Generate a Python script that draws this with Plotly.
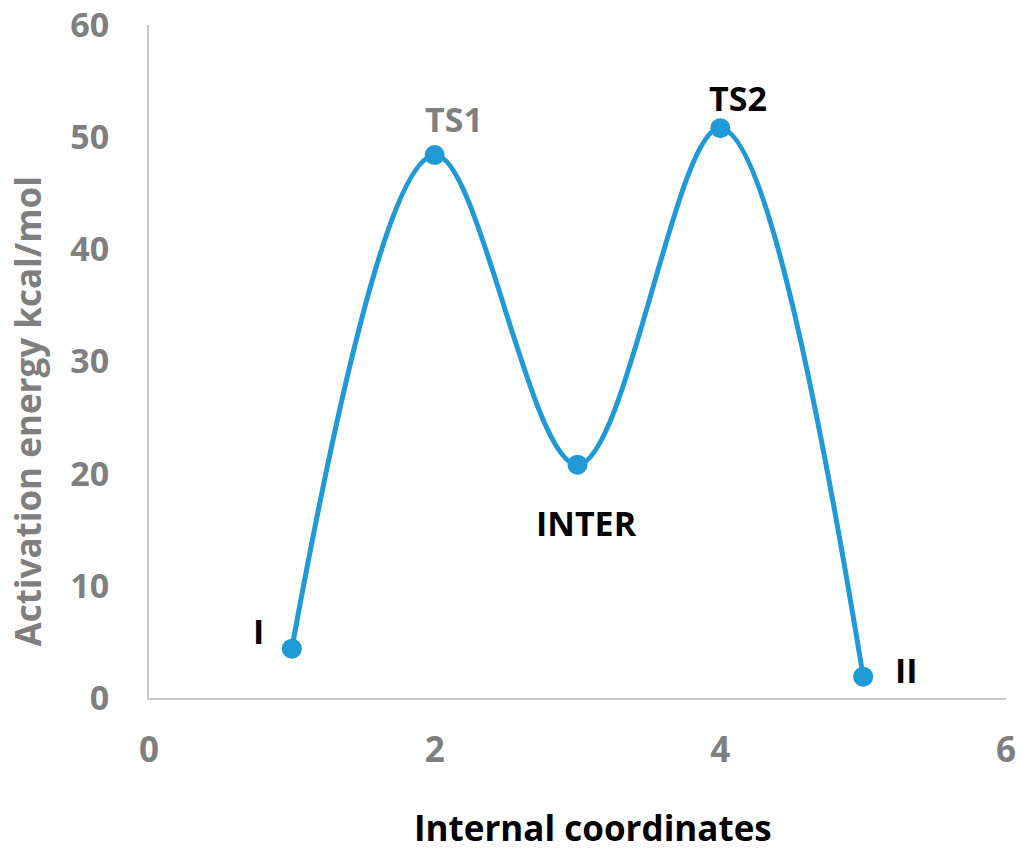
import plotly.graph_objects as go

# Data
x_vals = [1, 2, 3, 4, 5]
energy = [4.4, 48.4, 20.8, 50.8, 1.9]
labels = ["I", "TS1", "INTER", "TS2", "II"]
label_colors = ["#000000", "#7f7f7f", "#000000", "#000000", "#000000"]
label_xshift = [-33, 19, 9, 18, 43]
label_yshift = [18, 36, -58, 30, 7]

x_ticks = [0, 2, 4, 6]
y_ticks = [0, 10, 20, 30, 40, 50, 60]

x_title = "Internal coordinates"
y_title = "Activation energy kcal/mol"

FONT = "Open Sans"
BLUE = "#1f9ad6"
GRAY = "#7f7f7f"

fig = go.Figure()
fig.add_trace(go.Scatter(
    x=x_vals, y=energy, mode="lines+markers",
    line=dict(color=BLUE, width=5, shape="spline", smoothing=1.0),
    marker=dict(color=BLUE, size=20),
    showlegend=False, hoverinfo="skip",
))

for xv, yv, t, c, dx, dy in zip(x_vals, energy, labels, label_colors, label_xshift, label_yshift):
    fig.add_annotation(x=xv, y=yv, text=f"<b>{t}</b>", showarrow=False,
                       xshift=dx, yshift=dy,
                       font=dict(family=FONT, size=34, color=c))

# axis titles as annotations (offset from the plot centre as in the reference)
fig.add_annotation(xref="paper", yref="paper", x=0.5, y=0, yanchor="middle",
                   yshift=-129, xshift=15, showarrow=False,
                   text=f"<b>{x_title}</b>",
                   font=dict(family=FONT, size=35, color="#000000"))
fig.add_annotation(xref="paper", yref="paper", x=0, y=0.5, xanchor="center",
                   xshift=-122, yshift=-50, showarrow=False, textangle=-90,
                   text=f"<b>{y_title}</b>",
                   font=dict(family=FONT, size=35, color=GRAY))

fig.update_layout(
    width=1024, height=852,
    paper_bgcolor="white", plot_bgcolor="white",
    margin=dict(l=149, r=18, t=25, b=154, autoexpand=False),
    font=dict(family=FONT),
)
fig.update_xaxes(
    range=[0, 6], tickvals=x_ticks, ticktext=[f"<b>{v}</b>" for v in x_ticks],
    showgrid=False, zeroline=False,
    showline=True, linecolor="#c8c8c8", linewidth=2,
    ticks="outside", ticklen=20, tickcolor="rgba(0,0,0,0)",
    ticklabeloverflow="allow",
    tickfont=dict(family=FONT, size=35, color=GRAY),
)
fig.update_yaxes(
    range=[0, 60], tickvals=y_ticks, ticktext=[f"<b>{v}</b>" for v in y_ticks],
    showgrid=False, zeroline=False,
    showline=True, linecolor="#c8c8c8", linewidth=2,
    ticks="outside", ticklen=31, tickcolor="rgba(0,0,0,0)",
    ticklabeloverflow="allow",
    tickfont=dict(family=FONT, size=34, color=GRAY),
)

fig.write_html("out.html", config={"displayModeBar": False},
               post_script="document.body.style.margin='0';")
